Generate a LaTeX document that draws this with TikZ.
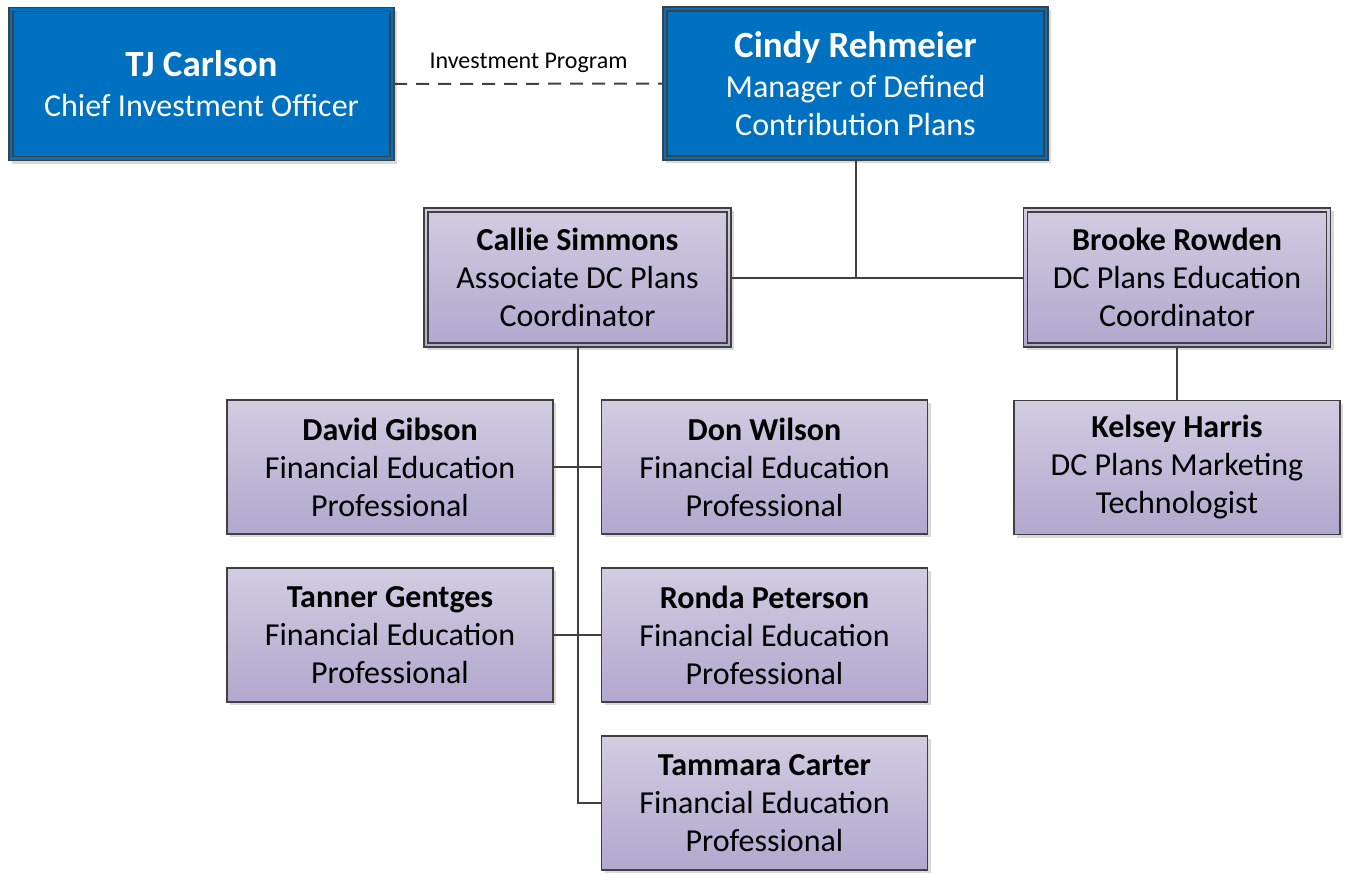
\documentclass[tikz,border=0pt]{standalone}
\usepackage{fontspec}
\setmainfont{Carlito}
\usepackage{xcolor}
\definecolor{boxblue}{RGB}{0,112,192}
\definecolor{lavtop}{RGB}{210,204,226}
\definecolor{lavbot}{RGB}{178,167,205}
\definecolor{linegray}{RGB}{64,64,64}
\usepackage{tikz}
\usetikzlibrary{shadows}
\newcommand{\widthchief}{192.5pt}
\newcommand{\heightchief}{76.5pt}
\newcommand{\widthlead}{153.5pt}
\newcommand{\heightlead}{69.5pt}
\newcommand{\widthstaff}{163pt}
\newcommand{\heightstaff}{67pt}
\tikzset{
    common/.style={draw=linegray, line width=0.7pt, rectangle, align=center, inner sep=0pt, outer sep=0pt,
        font=\fontsize{16}{19}\selectfont,
        general shadow={fill=black!15, shadow xshift=1.5pt, shadow yshift=-1.5pt}},
    inner-frame/.style={
        path picture={
            \draw[linegray, line width=0.6pt]
                ([shift={(2pt,2pt)}]path picture bounding box.south west) rectangle
                ([shift={(-2pt,-2pt)}]path picture bounding box.north east);
        }
    },
    chief/.style={common, inner-frame, fill=boxblue, text=white, minimum width=\widthchief, minimum height=\heightchief},
    lead/.style={common, inner-frame, top color=lavtop, bottom color=lavbot, minimum width=\widthlead, minimum height=\heightlead},
    staff/.style={common, top color=lavtop, bottom color=lavbot, minimum width=\widthstaff, minimum height=\heightstaff},
    conn/.style={draw=linegray, line width=1pt},
    dotted-link/.style={conn, dash pattern=on 6.5pt off 4.5pt}
}
\newcommand{\chiefname}[1]{{\fontsize{18.5}{21}\selectfont\bfseries #1}}

\begin{document}
\begin{tikzpicture}[x=0.5pt, y=-0.5pt]
    \useasboundingbox (0,0) rectangle (1347,874);

    % top row
    \node[chief] (carlson) at (201.5,84) {\chiefname{TJ Carlson}\\[1pt] Chief Investment Officer};
    \node[chief] (rehmeier) at (855.5,83.5) {\chiefname{Cindy Rehmeier}\\[1pt] Manager of Defined\\ Contribution Plans};

    % coordinators
    \node[lead] (simmons) at (577.5,277.5) {\textbf{Callie Simmons}\\ Associate DC Plans\\ Coordinator};
    \node[lead] (rowden) at (1177,277.5) {\textbf{Brooke Rowden}\\ DC Plans Education\\ Coordinator};

    % staff
    \node[staff] (gibson) at (390,467) {\textbf{David Gibson}\\ Financial Education\\ Professional};
    \node[staff] (wilson) at (764.5,467) {\textbf{Don Wilson}\\ Financial Education\\ Professional};
    \node[staff] (gentges) at (390,635) {\textbf{Tanner Gentges}\\ Financial Education\\ Professional};
    \node[staff] (peterson) at (764.5,635) {\textbf{Ronda Peterson}\\ Financial Education\\ Professional};
    \node[staff] (carter) at (764.5,803) {\textbf{Tammara Carter}\\ Financial Education\\ Professional};
    \node[staff] (harris) at (1177,467.5) {\textbf{Kelsey Harris}\\ DC Plans Marketing\\ Technologist};

    \draw[dotted-link] (carlson) -- node[above=1.5pt, font=\fontsize{12}{14}\selectfont] (program) {Investment Program} (rehmeier);

    \draw[conn] (rehmeier.south) -- (rehmeier.south |- simmons.east);
    \draw[conn] (simmons.east) -- (rowden.west);
    \draw[conn] (rowden) -- (harris);

    \draw[conn] (simmons.south) |- (carter.west);
    \draw[conn] (gibson.east) -- (wilson.west);
    \draw[conn] (gentges.east) -- (peterson.west);
\end{tikzpicture}
\end{document}
